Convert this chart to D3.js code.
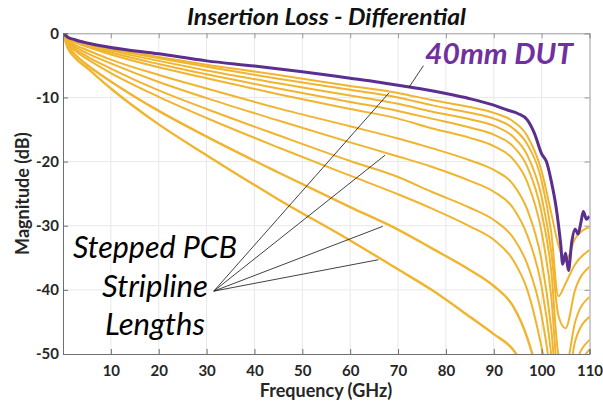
<!DOCTYPE html>
<html>
<head>
<meta charset="utf-8">
<script src="https://cdn.jsdelivr.net/npm/d3@7"></script>
<style>
    body { margin: 0; background: #fff; }
    svg { display: block; font-family: Lato, 'Open Sans', sans-serif; }
</style>
</head>
<body>
<svg width="603" height="401"></svg>
<script>
// shared frequency grid for the stepped stripline traces (GHz)
const freqs = [0, 1, 2.5, 5, 10, 20, 30, 45, 60, 70, 77, 85, 90, 94, 97, 100, 102, 103.5, 105, 107, 110];

// stepped PCB stripline lengths, shortest (top) to longest (bottom), dB
const line1 = [0, -0.6, -1.0, -1.5, -2.3, -3.7, -4.9, -6.5, -8.2, -9.3, -10.4, -11.5, -12.4, -13.7, -16, -21.5, -28, -33, -35.5, -32, -30.2];
const line2 = [0, -0.6, -1.1, -1.6, -2.5, -3.9, -5.2, -7.1, -8.8, -10.0, -11.2, -12.4, -13.3, -14.8, -17.3, -23, -31, -41, -39, -36, -33.8];
const line3 = [0, -0.7, -1.2, -1.7, -2.7, -4.3, -5.8, -7.8, -9.7, -11.0, -12.2, -13.4, -14.4, -16.1, -19, -25.5, -34, -44, -46, -40, -36.4];
const line4 = [0, -0.8, -1.3, -1.9, -3.0, -4.8, -6.4, -8.6, -10.7, -12.1, -13.3, -14.7, -15.8, -17.6, -20.8, -28, -37, -50, -52, -45, -41.1];
const line5 = [0, -0.8, -1.4, -2.1, -3.3, -5.3, -7.0, -9.5, -11.8, -13.3, -14.8, -16.3, -17.6, -19.6, -23.2, -31, -41, -54, -56, -48, -44.2];
const line6 = [0, -1.0, -1.8, -2.6, -4.1, -6.5, -8.6, -11.7, -14.5, -16.4, -17.9, -19.8, -21.3, -23.5, -27.5, -35.5, -46, -58, -60, -52, -47.8];
const line7 = [0, -1.2, -2.1, -3.1, -4.7, -7.6, -10.1, -13.6, -17.0, -19.2, -20.8, -23.0, -24.7, -27.2, -31.5, -39.5, -50, -62, -62, -54, -49.3];
const line8 = [0, -1.4, -2.4, -3.6, -5.5, -8.9, -11.8, -15.9, -19.9, -22.4, -24.7, -27.2, -29.1, -31.8, -36, -44, -54, -65, -64, -57, -52];
const line9 = [0, -1.6, -2.7, -4.0, -6.2, -9.9, -13.2, -17.8, -22.2, -25.1, -27.3, -30.1, -32.2, -35.3, -40, -49, -57, -68, -66, -59, -54];
const line10 = [0, -1.9, -3.3, -4.9, -7.5, -12.1, -16.1, -21.7, -27.1, -30.6, -33.5, -36.9, -39.4, -42.5, -47.5, -56, -65, -70, -68, -62, -57];
const line11 = [0, -2.3, -3.8, -5.4, -8.6, -14.2, -19.0, -25.9, -32.3, -36.8, -40.0, -44.2, -46.9, -49.3, -53, -60, -66, -70, -68, -63, -58];
const stripLines = [line1, line2, line3, line4, line5, line6, line7, line8, line9, line10, line11];

// 40mm DUT trace
const dutFreqs = [0, 1, 2.5, 5, 10, 20, 30, 40, 50, 60, 65, 70, 75, 80, 85, 90, 93, 95, 97, 98.5, 100, 101, 102, 103, 104, 104.4, 105, 105.6, 106.3, 107, 107.6, 108.2, 108.7, 109.4, 110];
const dutValues = [0, -0.6, -1.0, -1.5, -2.2, -3.2, -4.3, -5.1, -6.0, -7.0, -7.5, -8.1, -8.7, -9.4, -10.2, -11.2, -12.0, -12.5, -13.5, -15.6, -18.8, -20, -23, -27, -33, -36, -34.3, -37, -32.5, -30.5, -31.3, -29.5, -27.8, -29.0, -28.5];

const xTicks = [10, 20, 30, 40, 50, 60, 70, 80, 90, 100, 110];
const yTicks = [0, -10, -20, -30, -40, -50];

// annotation leaders, in data units (GHz, dB)
const fanOrigin = [31.5, -40.2];
const fanTargets = [[68.1, -9.3], [67.3, -19.0], [66.8, -30.1], [65.9, -35.3]];
const dutLeader = [[75.3, -5.05], [72.3, -8.4]];
const stripLabel = ['Stepped PCB', 'Stripline', 'Lengths'];
const stripLabelWidth = [164, 106, 100];

const yellow = '#f1b42f';
const purple = '#5b2f8f';

const svg = d3.select('svg');
const x = d3.scaleLinear().domain([0, 110]).range([63, 589.5]);
const y = d3.scaleLinear().domain([-50, 0]).range([354, 33.3]);

svg.append('rect').attr('width', 603).attr('height', 401).attr('fill', '#fff');

svg.append('defs')
    .append('clipPath')
    .attr('id', 'plot')
    .append('rect')
    .attr('x', x(0))
    .attr('y', y(0))
    .attr('width', x(110) - x(0))
    .attr('height', y(-50) - y(0));

// grid
const grid = svg.append('g').attr('stroke', '#e8e8e8').attr('stroke-width', 1);
grid.selectAll('line.gx')
    .data(xTicks.slice(0, -1))
    .enter()
    .append('line')
    .attr('x1', (d) => x(d))
    .attr('x2', (d) => x(d))
    .attr('y1', y(0))
    .attr('y2', y(-50));
grid.selectAll('line.gy')
    .data(yTicks.slice(1, -1))
    .enter()
    .append('line')
    .attr('x1', x(0))
    .attr('x2', x(110))
    .attr('y1', (d) => y(d))
    .attr('y2', (d) => y(d));

// box (top / right) with inward ticks
svg.append('g')
    .attr('transform', `translate(0,${y(0)})`)
    .call(d3.axisTop(x).tickValues(xTicks).tickSize(-5).tickFormat(''))
    .call((g) => g.selectAll('path, line').attr('stroke', '#9a9a9a'));
svg.append('g')
    .attr('transform', `translate(${x(110)},0)`)
    .call(d3.axisRight(y).tickValues(yTicks).tickSize(-5).tickFormat(''))
    .call((g) => g.selectAll('path, line').attr('stroke', '#9a9a9a'));

const line = d3
    .line()
    .x((d) => x(d[0]))
    .y((d) => y(d[1]))
    .curve(d3.curveMonotoneX);

const traces = svg.append('g').attr('clip-path', 'url(#plot)').attr('fill', 'none');

traces.selectAll('path.strip')
    .data(stripLines)
    .enter()
    .append('path')
    .attr('class', 'strip')
    .attr('stroke', yellow)
    .attr('stroke-width', (d, i) => (i > 8 ? 2.4 : 2))
    .attr('stroke-linejoin', 'round')
    .attr('d', (vals) => line(vals.map((v, i) => [freqs[i], v])));

traces.append('path')
    .attr('stroke', purple)
    .attr('stroke-width', 3)
    .attr('stroke-linejoin', 'round')
    .attr('d', line(dutValues.map((v, i) => [dutFreqs[i], v])));

// left / bottom axes
const axisColor = '#6f6f6f';
svg.append('g')
    .attr('transform', `translate(${x(0)},0)`)
    .call(d3.axisLeft(y).tickValues(yTicks).tickSize(-5).tickPadding(4).tickFormat((d) => String(d)))
    .call((g) => g.selectAll('path, line').attr('stroke', axisColor))
    .call((g) =>
        g.selectAll('text')
            .attr('fill', '#262626')
            .style('font', 'bold 15px Lato, sans-serif')
    );
svg.append('g')
    .attr('transform', `translate(0,${y(-50)})`)
    .call(d3.axisBottom(x).tickValues(xTicks).tickSize(-5).tickPadding(11).tickFormat((d) => String(d)))
    .call((g) => g.selectAll('path, line').attr('stroke', axisColor))
    .call((g) =>
        g.selectAll('text')
            .attr('fill', '#262626')
            .style('font', 'bold 15px Lato, sans-serif')
    );

// title and axis labels
svg.append('text')
    .attr('x', 326.5)
    .attr('y', 25)
    .attr('text-anchor', 'middle')
    .attr('fill', '#111')
    .attr('textLength', 279)
    .attr('lengthAdjust', 'spacingAndGlyphs')
    .style('font', 'italic bold 22px Lato, sans-serif')
    .text('Insertion Loss - Differential');

svg.append('text')
    .attr('transform', `translate(29,${(y(0) + y(-50)) / 2}) rotate(-90)`)
    .attr('text-anchor', 'middle')
    .attr('fill', '#262626')
    .style('font', 'bold 18px Lato, sans-serif')
    .text('Magnitude (dB)');

svg.append('text')
    .attr('x', 326)
    .attr('y', 397)
    .attr('text-anchor', 'middle')
    .attr('fill', '#262626')
    .style('font', 'bold 18px Lato, sans-serif')
    .text('Frequency (GHz)');

// annotations
const leaders = svg.append('g').attr('stroke', '#111').attr('stroke-width', 0.8);
leaders.selectAll('line')
    .data(fanTargets)
    .enter()
    .append('line')
    .attr('x1', x(fanOrigin[0]))
    .attr('y1', y(fanOrigin[1]))
    .attr('x2', (d) => x(d[0]))
    .attr('y2', (d) => y(d[1]));
leaders.append('line')
    .attr('x1', x(dutLeader[0][0]))
    .attr('y1', y(dutLeader[0][1]))
    .attr('x2', x(dutLeader[1][0]))
    .attr('y2', y(dutLeader[1][1]));

svg.append('text')
    .attr('x', 499)
    .attr('y', 64)
    .attr('text-anchor', 'middle')
    .attr('fill', '#7030a0')
    .attr('textLength', 148)
    .attr('lengthAdjust', 'spacingAndGlyphs')
    .style('font', 'italic bold 29px Lato, sans-serif')
    .text('40mm DUT');

svg.append('g')
    .selectAll('text')
    .data(stripLabel)
    .enter()
    .append('text')
    .attr('x', 155)
    .attr('y', (d, i) => 258 + i * 38.5)
    .attr('text-anchor', 'middle')
    .attr('fill', '#000')
    .attr('textLength', (d, i) => stripLabelWidth[i])
    .attr('lengthAdjust', 'spacingAndGlyphs')
    .style('font', 'italic 30px Lato, sans-serif')
    .text((d) => d);
</script>
</body>
</html>
